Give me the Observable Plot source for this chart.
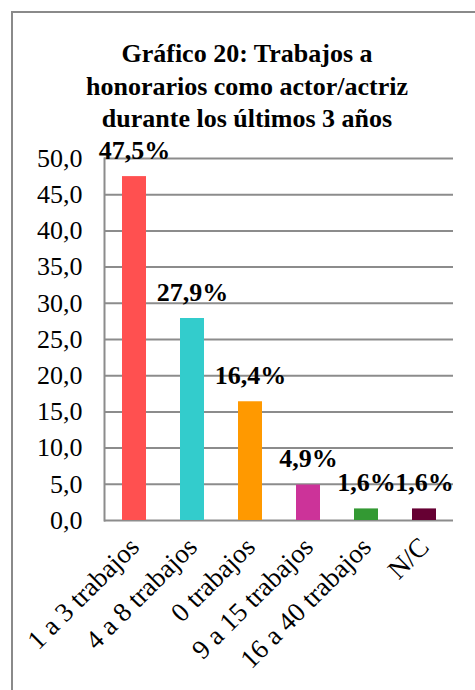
<!DOCTYPE html>
<html><head><meta charset="utf-8">
<script src="https://cdn.jsdelivr.net/npm/d3@7"></script>
<script src="https://cdn.jsdelivr.net/npm/@observablehq/plot@0.6"></script>
<style>
html,body{margin:0;padding:0;background:#fff;width:475px;height:690px;overflow:hidden;}
#frame{position:absolute;left:11px;top:11px;width:520px;height:740px;border:2px solid #8a8a8a;box-sizing:border-box;}
#title{position:absolute;left:11px;top:38px;width:472px;text-align:center;font-weight:bold;font-size:26px;line-height:32.5px;font-family:"Liberation Serif","Times New Roman",Times,Tinos,"DejaVu Serif","Noto Serif",serif;color:#000;}
#chart{position:absolute;left:0;top:135px;}
</style></head><body>
<div id="frame"></div>
<div id="title">Gráfico 20: Trabajos a<br>honorarios como actor/actriz<br>durante los últimos 3 años</div>
<div id="chart"></div>
<script>
const categories = ["1 a 3 trabajos", "4 a 8 trabajos", "0 trabajos", "9 a 15 trabajos", "16 a 40 trabajos", "N/C"];
const values = [47.5, 27.9, 16.4, 4.9, 1.6, 1.6];
const valueLabels = ["47,5%", "27,9%", "16,4%", "4,9%", "1,6%", "1,6%"];
const colors = ["#FF5050", "#33CCCC", "#FF9900", "#CC3399", "#339933", "#660033"];
const yTicks = [0, 5, 10, 15, 20, 25, 30, 35, 40, 45, 50];
const yTickLabels = ["0,0", "5,0", "10,0", "15,0", "20,0", "25,0", "30,0", "35,0", "40,0", "45,0", "50,0"];

const data = categories.map((c, i) => ({cat: c, value: values[i], label: valueLabels[i]}));
const serif = '"Liberation Serif","Times New Roman",Times,Tinos,"DejaVu Serif","Noto Serif",serif';

const chart = Plot.plot({
  width: 475, height: 555,
  marginTop: 23, marginBottom: 170, marginLeft: 104, marginRight: 22,
  style: {fontFamily: serif, fontSize: "26px", background: "transparent", color: "#000"},
  x: {domain: categories, paddingInner: 0.587, paddingOuter: 0.2935, label: null, axis: null},
  y: {domain: [0, 50], label: null, axis: null},
  color: {domain: categories, range: colors},
  marks: [
    Plot.ruleY(yTicks, {stroke: "#8c8c8c", strokeWidth: 2}),
    Plot.frame({anchor: "left", stroke: "#8c8c8c", strokeWidth: 2}),
    Plot.barY(data, {x: "cat", y: "value", fill: "cat"}),
    Plot.text(data, {x: "cat", y: "value", text: "label", lineAnchor: "bottom", dy: -18, fontWeight: "bold", fontSize: 26, fontFamily: serif, fill: "#000"}),
    Plot.axisY({ticks: yTicks, tickFormat: (d) => yTickLabels[yTicks.indexOf(d)], tickSize: 0, tickPadding: 22, fontSize: 26, fontFamily: serif, fill: "#000"}),
    Plot.axisX({tickSize: 0, tickRotate: -45, tickPadding: 22, fontSize: 27, fontFamily: serif, fill: "#000"})
  ]
});
document.getElementById("chart").appendChild(chart);
</script>
</body></html>
